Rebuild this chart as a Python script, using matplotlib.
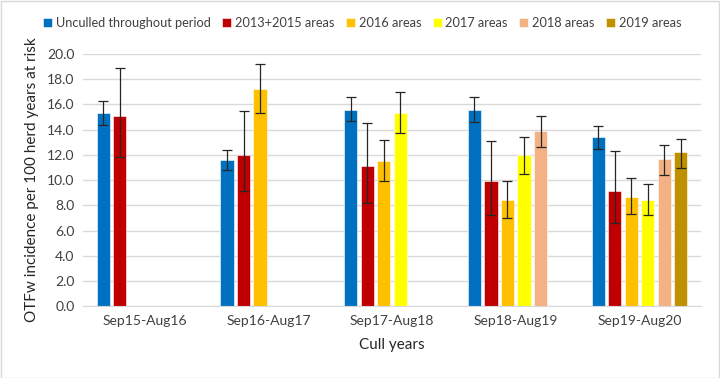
import numpy as np
import matplotlib.pyplot as plt

plt.rcParams['font.family'] = ['Lato', 'DejaVu Sans']

periods = ['Sep15-Aug16', 'Sep16-Aug17', 'Sep17-Aug18', 'Sep18-Aug19', 'Sep19-Aug20']
series = ['Unculled throughout period', '2013+2015 areas', '2016 areas',
          '2017 areas', '2018 areas', '2019 areas']
colors = ['#0070C0', '#C00000', '#FFC000', '#FFFF00', '#F4B183', '#BF9000']

# incidence per series, one value per period (nan = no bar)
nan = np.nan
values = [
    [15.3, 11.6, 15.6, 15.6, 13.4],
    [15.1, 12.0, 11.1, 9.9, 9.1],
    [nan, 17.2, 11.5, 8.4, 8.7],
    [nan, nan, 15.3, 12.0, 8.4],
    [nan, nan, nan, 13.9, 11.7],
    [nan, nan, nan, nan, 12.2],
]
lower = [
    [14.4, 10.8, 14.7, 14.6, 12.5],
    [11.8, 9.1, 8.2, 7.2, 6.6],
    [nan, 15.3, 9.9, 7.0, 7.3],
    [nan, nan, 13.7, 10.5, 7.2],
    [nan, nan, nan, 12.6, 10.4],
    [nan, nan, nan, nan, 11.0],
]
upper = [
    [16.3, 12.4, 16.6, 16.6, 14.3],
    [18.9, 15.5, 14.5, 13.1, 12.3],
    [nan, 19.2, 13.2, 9.9, 10.2],
    [nan, nan, 17.0, 13.4, 9.7],
    [nan, nan, nan, 15.1, 12.8],
    [nan, nan, nan, nan, 13.3],
]

fig = plt.figure(figsize=(7.2, 3.78), dpi=100)
ax = fig.add_axes([0.115, 0.19, 0.859, 0.667])

x = np.arange(len(periods))
step = 0.1335
width = 0.107
for i, name in enumerate(series):
    v = np.array(values[i])
    lo = v - np.array(lower[i])
    hi = np.array(upper[i]) - v
    pos = x + (i - 2.5) * step
    ax.bar(pos, v, width, color=colors[i], label=name, zorder=2,
           edgecolor='white', linewidth=0.4)
    ax.errorbar(pos, v, yerr=[lo, hi], fmt='none', ecolor='#262626',
                elinewidth=0.9, capsize=3.5, capthick=0.9, zorder=3)

ax.set_xlim(-0.5, 4.5)
ax.set_ylim(0, 20)
ax.set_yticks(np.arange(0, 20.1, 2))
ax.set_yticklabels([f'{t:.1f}' for t in np.arange(0, 20.1, 2)])
ax.set_xticks(x)
ax.set_xticklabels(periods)
ax.tick_params(length=0, labelsize=10, colors='#404040', pad=6)
ax.grid(axis='y', color='#D9D9D9', linewidth=1, zorder=0)
for s in ['top', 'right', 'left']:
    ax.spines[s].set_visible(False)
ax.spines['bottom'].set_color('#D9D9D9')

ax.set_xlabel('Cull years', fontsize=11, color='#262626', labelpad=8)
ax.set_ylabel('OTFw incidence per 100 herd years at risk', fontsize=11,
              color='#262626', labelpad=6)

fig.legend(loc='upper center', bbox_to_anchor=(0.503, 0.985), ncol=6,
           frameon=False, fontsize=9.2, handlelength=0.7, handleheight=0.7,
           handletextpad=0.3, columnspacing=0.9, labelcolor='#404040')

fig.patches.append(plt.Rectangle((0.001, 0.001), 0.998, 0.997, fill=False,
                                 edgecolor='#D9D9D9', linewidth=1,
                                 transform=fig.transFigure))

fig.savefig('out.png', dpi=100)
